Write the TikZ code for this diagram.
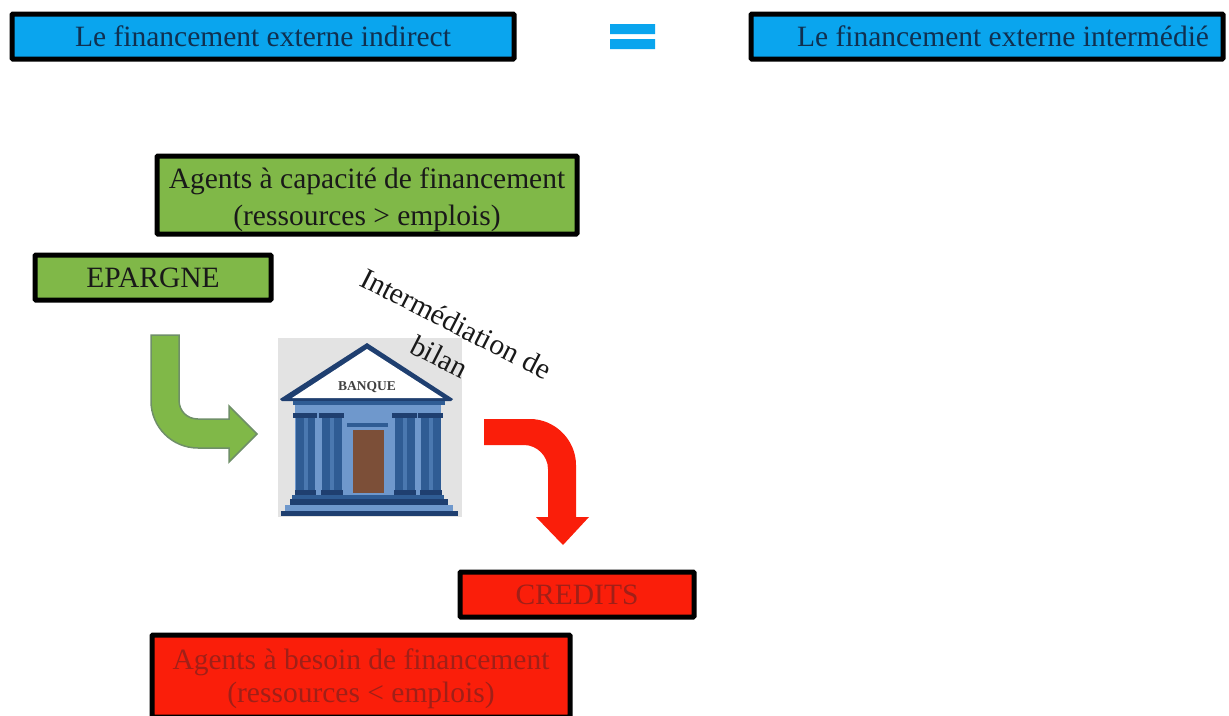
\documentclass[tikz,border=0pt]{standalone}
\usepackage{fontspec}
\setmainfont{Liberation Serif}
\definecolor{cblue}{HTML}{0AA5EE}
\definecolor{cgreen}{HTML}{80B848}
\definecolor{cred}{HTML}{FA1E0A}
\definecolor{ctxtb}{HTML}{103050}
\definecolor{ctxtr}{HTML}{A02018}
\definecolor{navy}{HTML}{1F3F70}
\definecolor{midb}{HTML}{2F5C94}
\definecolor{lightb}{HTML}{6F98CC}
\definecolor{colhi}{HTML}{4A78B0}
\definecolor{doorc}{HTML}{7C4F38}
\definecolor{arredge}{HTML}{6F8F68}
\tikzset{
 x=1pt,y=-1pt,
 tbox/.style={draw=black,line width=5pt,rounded corners=1pt,inner sep=0pt,align=center},
 bluebox/.style={tbox,fill=cblue,text=ctxtb,font=\fontsize{29.5}{33}\selectfont},
 greenbox/.style={tbox,fill=cgreen,text=black!90,font=\fontsize{29.5}{37}\selectfont},
 redbox/.style={tbox,fill=cred,text=ctxtr,font=\fontsize{29.5}{33}\selectfont},
}
\newcommand{\boxnode}[7]{%
 \node[#2,minimum width=#5pt,minimum height=#6pt] (#1) at (#3,#4) {#7};}
\begin{document}
\begin{tikzpicture}
\useasboundingbox (0,0) rectangle (1229,715);
\fill[white] (0,0) rectangle (1229,715);
\boxnode{ext}{bluebox}{263}{36.5}{502}{45}{\raisebox{1pt}{Le financement externe indirect}}
\boxnode{inter}{bluebox}{987}{36.5}{472}{45}{\hspace*{32pt}\raisebox{1pt}{Le financement externe intermédié}}
\fill[cblue] (610,24) rectangle (655,34) (610,39) rectangle (655,49);
\boxnode{cap}{greenbox}{367}{195}{420}{78}{\rule{0pt}{30pt}Agents à capacité de financement\\(ressources > emplois)}
\boxnode{epargne}{greenbox}{153}{277.5}{236}{45}{EPARGNE}
\boxnode{credits}{redbox}{577}{594.5}{234}{45}{CREDITS}
\boxnode{besoin}{redbox}{361}{676}{418}{82}{\rule{0pt}{26pt}Agents à besoin de financement\\(ressources < emplois)}
% bank
\fill[black!11] (278,338) rectangle (462,517);
\fill[lightb] (295,404) rectangle (441,496);
\fill[navy] (367,343) -- (453,399) -- (451,401) -- (282,401) -- (280,399) -- cycle;
\fill[white] (367,349) -- (443,398) -- (292,398) -- cycle;
\node[font=\bfseries\fontsize{13.5}{15}\selectfont,text=black!75,inner sep=0pt] (banklabel) at (367,387) {BANQUE};
\fill[midb] (293,401) rectangle (445,405);
\foreach \a/\b in {296/315,322/342,395/415,421/441}{
 \fill[midb] (\a,414) rectangle (\b,495);
 \fill[colhi] ({\a+8},418) rectangle ({\a+12},490);
 \fill[navy] ({\a-3},413) rectangle ({\b+2},418);
 \fill[navy] ({\a-1},490) rectangle ({\b+1},495);
}
\fill[midb] (347,423) rectangle (388,427);
\fill[doorc] (353,430) rectangle (384,493);
\fill[midb] (292,495) rectangle (444,499);
\fill[navy] (290,499) rectangle (448,505);
\fill[lightb] (285,505) rectangle (453,511);
\fill[navy] (281,511) rectangle (458,516);
% rotated caption
\node[rotate=-27,align=center,inner sep=0pt,text=black!90,font=\fontsize{29.5}{37}\selectfont] (caption) at (448,340) {Intermédiation de\\bilan};
% arrows
\draw[draw=arredge,line width=1.5pt,fill=cgreen] (151,335) -- (179,335) -- (179,400) .. controls (179,411) and (187,419) .. (198,419) -- (229,419) -- (229,406) -- (257,434) -- (229,462) -- (229,448) -- (198,448) .. controls (172,448) and (151,427) .. (151,401) -- cycle;
\fill[cred] (484,419) -- (530,419) .. controls (555,419) and (576,440) .. (576,465) -- (576,517) -- (589,517) -- (563,545) -- (536,517) -- (548,517) -- (548,469) .. controls (548,456) and (537,445) .. (524,445) -- (484,445) -- cycle;
\end{tikzpicture}
\end{document}
